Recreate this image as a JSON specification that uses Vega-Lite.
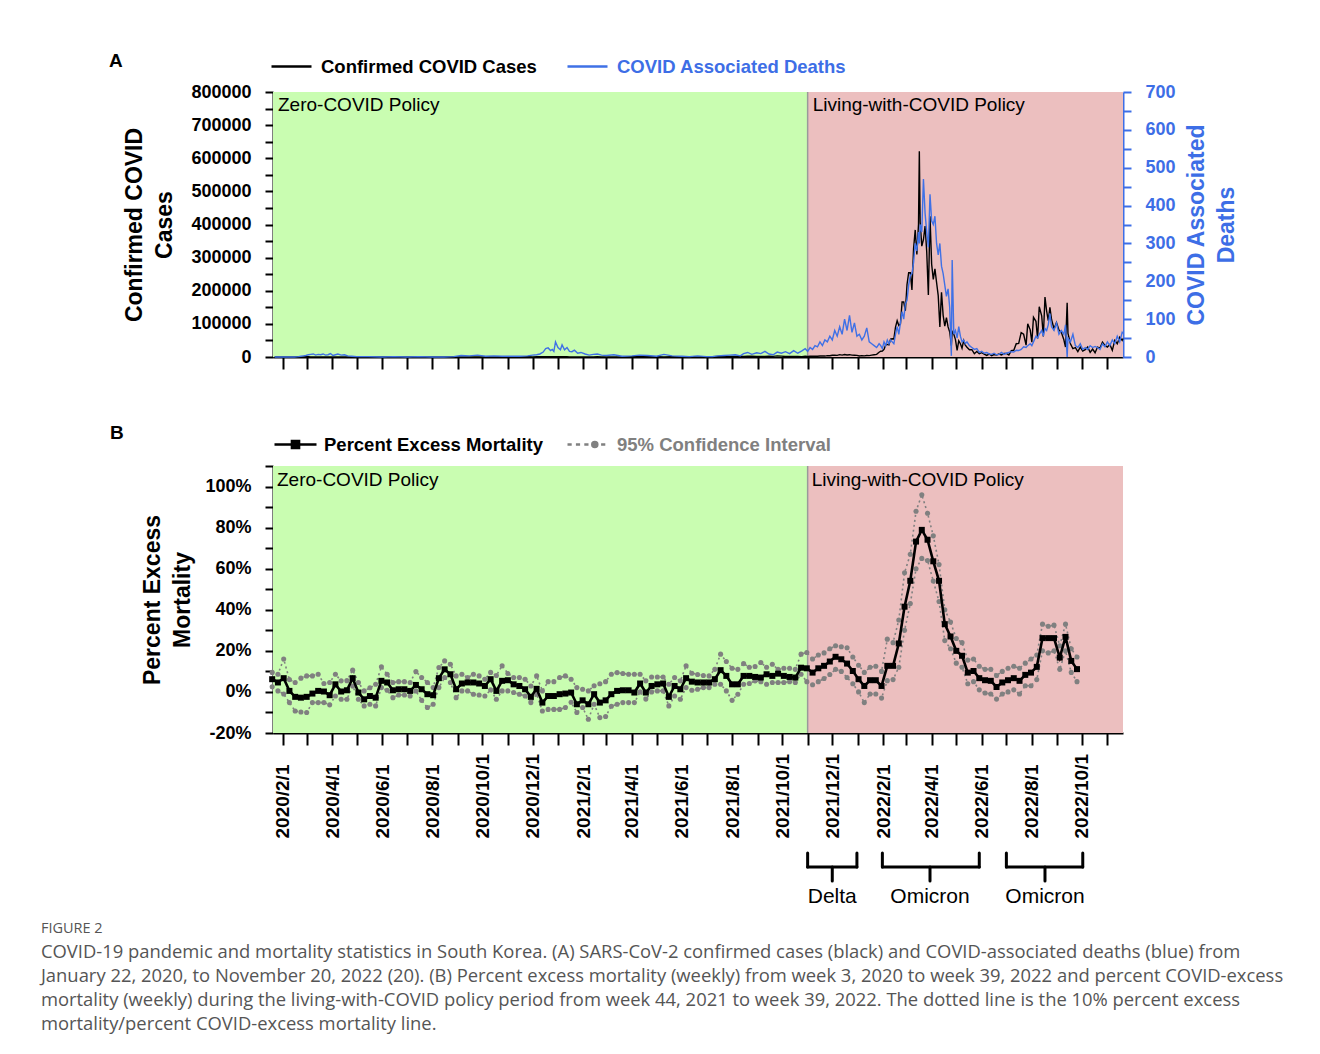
{
  "$schema": "https://vega.github.io/schema/vega-lite/v6.json",
  "background": "white",
  "padding": {"left": 40, "top": 45, "right": 10, "bottom": 10},
  "datasets": {
    "policy": [
      {"policy": "Zero-COVID Policy", "start": "2020-01-20", "end": "2021-11-01"},
      {"policy": "Living-with-COVID Policy", "start": "2021-11-01", "end": "2022-11-20"}
    ],
    "variants": [
      {"variant": "Delta", "start": "2021-11-01", "end": "2021-12-31", "mid": "2021-12-01"},
      {"variant": "Omicron", "start": "2022-01-31", "end": "2022-05-29", "mid": "2022-03-30"},
      {"variant": "Omicron", "start": "2022-07-01", "end": "2022-10-02", "mid": "2022-08-17"}
    ],
    "daily": [
      {"date": "2020-01-22", "cases": 1, "deaths": 0},
      {"date": "2020-02-01", "cases": 1, "deaths": 0},
      {"date": "2020-02-15", "cases": 0, "deaths": 0},
      {"date": "2020-02-20", "cases": 36, "deaths": 1},
      {"date": "2020-02-23", "cases": 169, "deaths": 2},
      {"date": "2020-02-26", "cases": 284, "deaths": 3},
      {"date": "2020-02-29", "cases": 813, "deaths": 4},
      {"date": "2020-03-03", "cases": 600, "deaths": 6},
      {"date": "2020-03-06", "cases": 518, "deaths": 7},
      {"date": "2020-03-09", "cases": 248, "deaths": 8},
      {"date": "2020-03-12", "cases": 114, "deaths": 5},
      {"date": "2020-03-15", "cases": 76, "deaths": 7},
      {"date": "2020-03-18", "cases": 93, "deaths": 6},
      {"date": "2020-03-21", "cases": 147, "deaths": 8},
      {"date": "2020-03-24", "cases": 100, "deaths": 5},
      {"date": "2020-03-27", "cases": 91, "deaths": 6},
      {"date": "2020-03-30", "cases": 78, "deaths": 9},
      {"date": "2020-04-02", "cases": 89, "deaths": 4},
      {"date": "2020-04-05", "cases": 81, "deaths": 6},
      {"date": "2020-04-08", "cases": 53, "deaths": 8},
      {"date": "2020-04-12", "cases": 32, "deaths": 5},
      {"date": "2020-04-16", "cases": 22, "deaths": 6},
      {"date": "2020-04-20", "cases": 13, "deaths": 3},
      {"date": "2020-04-25", "cases": 10, "deaths": 2},
      {"date": "2020-05-01", "cases": 9, "deaths": 1},
      {"date": "2020-05-15", "cases": 20, "deaths": 1},
      {"date": "2020-06-01", "cases": 35, "deaths": 0},
      {"date": "2020-06-15", "cases": 37, "deaths": 1},
      {"date": "2020-07-01", "cases": 51, "deaths": 0},
      {"date": "2020-07-15", "cases": 39, "deaths": 1},
      {"date": "2020-08-01", "cases": 31, "deaths": 0},
      {"date": "2020-08-15", "cases": 166, "deaths": 0},
      {"date": "2020-08-27", "cases": 441, "deaths": 1},
      {"date": "2020-09-05", "cases": 168, "deaths": 4},
      {"date": "2020-09-15", "cases": 106, "deaths": 3},
      {"date": "2020-09-25", "cases": 114, "deaths": 5},
      {"date": "2020-10-05", "cases": 73, "deaths": 2},
      {"date": "2020-10-15", "cases": 110, "deaths": 3},
      {"date": "2020-10-25", "cases": 61, "deaths": 2},
      {"date": "2020-11-05", "cases": 145, "deaths": 2},
      {"date": "2020-11-15", "cases": 208, "deaths": 2},
      {"date": "2020-11-25", "cases": 583, "deaths": 3},
      {"date": "2020-12-01", "cases": 451, "deaths": 5},
      {"date": "2020-12-06", "cases": 631, "deaths": 6},
      {"date": "2020-12-10", "cases": 682, "deaths": 8},
      {"date": "2020-12-14", "cases": 718, "deaths": 13},
      {"date": "2020-12-17", "cases": 1078, "deaths": 22},
      {"date": "2020-12-20", "cases": 1097, "deaths": 24},
      {"date": "2020-12-23", "cases": 1092, "deaths": 17},
      {"date": "2020-12-25", "cases": 1240, "deaths": 20},
      {"date": "2020-12-27", "cases": 970, "deaths": 15},
      {"date": "2020-12-29", "cases": 1046, "deaths": 40},
      {"date": "2021-01-01", "cases": 824, "deaths": 25},
      {"date": "2021-01-04", "cases": 657, "deaths": 19},
      {"date": "2021-01-06", "cases": 870, "deaths": 32},
      {"date": "2021-01-09", "cases": 641, "deaths": 19},
      {"date": "2021-01-12", "cases": 537, "deaths": 25},
      {"date": "2021-01-15", "cases": 512, "deaths": 15},
      {"date": "2021-01-18", "cases": 389, "deaths": 14},
      {"date": "2021-01-21", "cases": 401, "deaths": 18},
      {"date": "2021-01-25", "cases": 437, "deaths": 10},
      {"date": "2021-01-29", "cases": 469, "deaths": 12},
      {"date": "2021-02-03", "cases": 467, "deaths": 8},
      {"date": "2021-02-08", "cases": 289, "deaths": 5},
      {"date": "2021-02-13", "cases": 362, "deaths": 7},
      {"date": "2021-02-18", "cases": 621, "deaths": 8},
      {"date": "2021-02-23", "cases": 440, "deaths": 5},
      {"date": "2021-03-01", "cases": 355, "deaths": 4},
      {"date": "2021-03-10", "cases": 446, "deaths": 6},
      {"date": "2021-03-20", "cases": 456, "deaths": 2},
      {"date": "2021-04-01", "cases": 551, "deaths": 3},
      {"date": "2021-04-10", "cases": 614, "deaths": 5},
      {"date": "2021-04-20", "cases": 549, "deaths": 4},
      {"date": "2021-05-01", "cases": 606, "deaths": 2},
      {"date": "2021-05-10", "cases": 463, "deaths": 7},
      {"date": "2021-05-20", "cases": 646, "deaths": 3},
      {"date": "2021-06-01", "cases": 459, "deaths": 2},
      {"date": "2021-06-10", "cases": 556, "deaths": 1},
      {"date": "2021-06-20", "cases": 429, "deaths": 3},
      {"date": "2021-07-01", "cases": 826, "deaths": 1},
      {"date": "2021-07-08", "cases": 1275, "deaths": 1},
      {"date": "2021-07-15", "cases": 1600, "deaths": 3},
      {"date": "2021-07-22", "cases": 1842, "deaths": 4},
      {"date": "2021-07-29", "cases": 1674, "deaths": 5},
      {"date": "2021-08-05", "cases": 1776, "deaths": 6},
      {"date": "2021-08-11", "cases": 2223, "deaths": 3},
      {"date": "2021-08-15", "cases": 1816, "deaths": 9},
      {"date": "2021-08-20", "cases": 2050, "deaths": 12},
      {"date": "2021-08-25", "cases": 2155, "deaths": 7},
      {"date": "2021-08-31", "cases": 2025, "deaths": 11},
      {"date": "2021-09-05", "cases": 1490, "deaths": 9},
      {"date": "2021-09-10", "cases": 1892, "deaths": 15},
      {"date": "2021-09-15", "cases": 2080, "deaths": 8},
      {"date": "2021-09-20", "cases": 1910, "deaths": 6},
      {"date": "2021-09-25", "cases": 3273, "deaths": 13},
      {"date": "2021-09-30", "cases": 2564, "deaths": 10},
      {"date": "2021-10-05", "cases": 1575, "deaths": 14},
      {"date": "2021-10-10", "cases": 1594, "deaths": 9},
      {"date": "2021-10-15", "cases": 1940, "deaths": 17},
      {"date": "2021-10-20", "cases": 1571, "deaths": 10},
      {"date": "2021-10-25", "cases": 1266, "deaths": 16},
      {"date": "2021-10-29", "cases": 2124, "deaths": 22},
      {"date": "2021-11-01", "cases": 1700, "deaths": 15},
      {"date": "2021-11-04", "cases": 2500, "deaths": 25},
      {"date": "2021-11-07", "cases": 2200, "deaths": 20},
      {"date": "2021-11-10", "cases": 2400, "deaths": 30},
      {"date": "2021-11-13", "cases": 2400, "deaths": 27},
      {"date": "2021-11-16", "cases": 3100, "deaths": 40},
      {"date": "2021-11-19", "cases": 3200, "deaths": 30},
      {"date": "2021-11-22", "cases": 2800, "deaths": 45},
      {"date": "2021-11-25", "cases": 4100, "deaths": 40},
      {"date": "2021-11-28", "cases": 4000, "deaths": 55},
      {"date": "2021-12-01", "cases": 5100, "deaths": 45},
      {"date": "2021-12-04", "cases": 5300, "deaths": 70},
      {"date": "2021-12-07", "cases": 4900, "deaths": 55},
      {"date": "2021-12-10", "cases": 7000, "deaths": 80},
      {"date": "2021-12-13", "cases": 5800, "deaths": 60},
      {"date": "2021-12-16", "cases": 7600, "deaths": 100},
      {"date": "2021-12-19", "cases": 6200, "deaths": 70},
      {"date": "2021-12-22", "cases": 7000, "deaths": 110},
      {"date": "2021-12-25", "cases": 5800, "deaths": 65},
      {"date": "2021-12-28", "cases": 5400, "deaths": 90},
      {"date": "2021-12-31", "cases": 5000, "deaths": 55},
      {"date": "2022-01-03", "cases": 3200, "deaths": 60},
      {"date": "2022-01-06", "cases": 4100, "deaths": 45},
      {"date": "2022-01-09", "cases": 3300, "deaths": 55},
      {"date": "2022-01-12", "cases": 4500, "deaths": 77},
      {"date": "2022-01-15", "cases": 4200, "deaths": 40},
      {"date": "2022-01-18", "cases": 5500, "deaths": 35},
      {"date": "2022-01-21", "cases": 6800, "deaths": 30},
      {"date": "2022-01-24", "cases": 8000, "deaths": 25},
      {"date": "2022-01-27", "cases": 14500, "deaths": 35},
      {"date": "2022-01-29", "cases": 17500, "deaths": 30},
      {"date": "2022-01-31", "cases": 18000, "deaths": 22},
      {"date": "2022-02-02", "cases": 22900, "deaths": 40},
      {"date": "2022-02-04", "cases": 36000, "deaths": 30},
      {"date": "2022-02-06", "cases": 38000, "deaths": 45},
      {"date": "2022-02-08", "cases": 36700, "deaths": 35},
      {"date": "2022-02-10", "cases": 54000, "deaths": 45},
      {"date": "2022-02-12", "cases": 54900, "deaths": 40},
      {"date": "2022-02-14", "cases": 54600, "deaths": 35},
      {"date": "2022-02-16", "cases": 90400, "deaths": 60},
      {"date": "2022-02-18", "cases": 109800, "deaths": 80},
      {"date": "2022-02-20", "cases": 95000, "deaths": 60},
      {"date": "2022-02-22", "cases": 99500, "deaths": 90},
      {"date": "2022-02-24", "cases": 166000, "deaths": 120},
      {"date": "2022-02-26", "cases": 166200, "deaths": 100},
      {"date": "2022-02-28", "cases": 139600, "deaths": 140},
      {"date": "2022-03-02", "cases": 219000, "deaths": 150},
      {"date": "2022-03-04", "cases": 254300, "deaths": 190},
      {"date": "2022-03-06", "cases": 254300, "deaths": 215},
      {"date": "2022-03-08", "cases": 202700, "deaths": 220},
      {"date": "2022-03-10", "cases": 327500, "deaths": 250},
      {"date": "2022-03-12", "cases": 383600, "deaths": 300},
      {"date": "2022-03-14", "cases": 309700, "deaths": 280},
      {"date": "2022-03-16", "cases": 400600, "deaths": 330},
      {"date": "2022-03-17", "cases": 621300, "deaths": 300},
      {"date": "2022-03-18", "cases": 407000, "deaths": 350},
      {"date": "2022-03-20", "cases": 334700, "deaths": 330},
      {"date": "2022-03-22", "cases": 354000, "deaths": 470},
      {"date": "2022-03-24", "cases": 395500, "deaths": 380},
      {"date": "2022-03-26", "cases": 318100, "deaths": 330},
      {"date": "2022-03-28", "cases": 187200, "deaths": 290},
      {"date": "2022-03-30", "cases": 424600, "deaths": 430},
      {"date": "2022-04-01", "cases": 280000, "deaths": 360},
      {"date": "2022-04-03", "cases": 234300, "deaths": 350},
      {"date": "2022-04-05", "cases": 266100, "deaths": 372},
      {"date": "2022-04-07", "cases": 224800, "deaths": 300},
      {"date": "2022-04-09", "cases": 185500, "deaths": 270},
      {"date": "2022-04-11", "cases": 90900, "deaths": 300},
      {"date": "2022-04-13", "cases": 195400, "deaths": 240},
      {"date": "2022-04-15", "cases": 125800, "deaths": 220},
      {"date": "2022-04-17", "cases": 93000, "deaths": 190},
      {"date": "2022-04-19", "cases": 118500, "deaths": 160},
      {"date": "2022-04-21", "cases": 90800, "deaths": 180},
      {"date": "2022-04-23", "cases": 75400, "deaths": 130},
      {"date": "2022-04-25", "cases": 34300, "deaths": 3},
      {"date": "2022-04-26", "cases": 76700, "deaths": 256},
      {"date": "2022-04-28", "cases": 68500, "deaths": 60},
      {"date": "2022-04-30", "cases": 52700, "deaths": 70},
      {"date": "2022-05-02", "cases": 20000, "deaths": 50},
      {"date": "2022-05-04", "cases": 49000, "deaths": 80},
      {"date": "2022-05-06", "cases": 40000, "deaths": 55},
      {"date": "2022-05-08", "cases": 26700, "deaths": 40},
      {"date": "2022-05-10", "cases": 49900, "deaths": 45},
      {"date": "2022-05-12", "cases": 35900, "deaths": 35},
      {"date": "2022-05-14", "cases": 29500, "deaths": 40},
      {"date": "2022-05-17", "cases": 22000, "deaths": 30},
      {"date": "2022-05-20", "cases": 22000, "deaths": 25},
      {"date": "2022-05-23", "cases": 10000, "deaths": 20},
      {"date": "2022-05-26", "cases": 16500, "deaths": 22},
      {"date": "2022-05-29", "cases": 10000, "deaths": 12},
      {"date": "2022-06-01", "cases": 13000, "deaths": 15},
      {"date": "2022-06-04", "cases": 9000, "deaths": 10},
      {"date": "2022-06-07", "cases": 5000, "deaths": 12},
      {"date": "2022-06-10", "cases": 9000, "deaths": 8},
      {"date": "2022-06-13", "cases": 3800, "deaths": 7},
      {"date": "2022-06-16", "cases": 7400, "deaths": 10},
      {"date": "2022-06-19", "cases": 6000, "deaths": 6},
      {"date": "2022-06-22", "cases": 9000, "deaths": 7},
      {"date": "2022-06-25", "cases": 6200, "deaths": 12},
      {"date": "2022-06-28", "cases": 10400, "deaths": 7},
      {"date": "2022-07-01", "cases": 10700, "deaths": 10},
      {"date": "2022-07-04", "cases": 6200, "deaths": 12},
      {"date": "2022-07-07", "cases": 19300, "deaths": 14},
      {"date": "2022-07-10", "cases": 20400, "deaths": 13},
      {"date": "2022-07-13", "cases": 40200, "deaths": 18},
      {"date": "2022-07-16", "cases": 41300, "deaths": 17},
      {"date": "2022-07-19", "cases": 73600, "deaths": 20},
      {"date": "2022-07-22", "cases": 68600, "deaths": 27},
      {"date": "2022-07-25", "cases": 35800, "deaths": 25},
      {"date": "2022-07-27", "cases": 100200, "deaths": 30},
      {"date": "2022-07-30", "cases": 82000, "deaths": 35},
      {"date": "2022-08-01", "cases": 44600, "deaths": 30},
      {"date": "2022-08-03", "cases": 119900, "deaths": 40},
      {"date": "2022-08-06", "cases": 107900, "deaths": 55},
      {"date": "2022-08-08", "cases": 55200, "deaths": 50},
      {"date": "2022-08-10", "cases": 151700, "deaths": 60},
      {"date": "2022-08-13", "cases": 124500, "deaths": 70},
      {"date": "2022-08-15", "cases": 62000, "deaths": 55},
      {"date": "2022-08-17", "cases": 180800, "deaths": 75},
      {"date": "2022-08-19", "cases": 138800, "deaths": 70},
      {"date": "2022-08-21", "cases": 110000, "deaths": 85},
      {"date": "2022-08-23", "cases": 150200, "deaths": 115},
      {"date": "2022-08-25", "cases": 113300, "deaths": 80},
      {"date": "2022-08-28", "cases": 85300, "deaths": 70},
      {"date": "2022-08-31", "cases": 103900, "deaths": 90},
      {"date": "2022-09-03", "cases": 81500, "deaths": 60},
      {"date": "2022-09-06", "cases": 73600, "deaths": 70},
      {"date": "2022-09-09", "cases": 51900, "deaths": 60},
      {"date": "2022-09-11", "cases": 30000, "deaths": 85},
      {"date": "2022-09-13", "cases": 164000, "deaths": 0},
      {"date": "2022-09-14", "cases": 71400, "deaths": 50},
      {"date": "2022-09-17", "cases": 40000, "deaths": 40},
      {"date": "2022-09-20", "cases": 25000, "deaths": 60},
      {"date": "2022-09-23", "cases": 28000, "deaths": 30},
      {"date": "2022-09-26", "cases": 16500, "deaths": 25},
      {"date": "2022-09-29", "cases": 30000, "deaths": 35},
      {"date": "2022-10-02", "cases": 18000, "deaths": 20},
      {"date": "2022-10-05", "cases": 22000, "deaths": 25},
      {"date": "2022-10-08", "cases": 30000, "deaths": 20},
      {"date": "2022-10-11", "cases": 14000, "deaths": 30},
      {"date": "2022-10-14", "cases": 24000, "deaths": 25},
      {"date": "2022-10-17", "cases": 13000, "deaths": 28},
      {"date": "2022-10-20", "cases": 30000, "deaths": 25},
      {"date": "2022-10-23", "cases": 27000, "deaths": 20},
      {"date": "2022-10-26", "cases": 45000, "deaths": 35},
      {"date": "2022-10-29", "cases": 35000, "deaths": 27},
      {"date": "2022-11-01", "cases": 30000, "deaths": 40},
      {"date": "2022-11-04", "cases": 38000, "deaths": 30},
      {"date": "2022-11-07", "cases": 20000, "deaths": 45},
      {"date": "2022-11-10", "cases": 50000, "deaths": 35},
      {"date": "2022-11-13", "cases": 40000, "deaths": 55},
      {"date": "2022-11-16", "cases": 60000, "deaths": 40},
      {"date": "2022-11-19", "cases": 50000, "deaths": 65},
      {"date": "2022-11-20", "cases": 56000, "deaths": 62}
    ],
    "weekly": [
      {"date": "2020-01-19", "pct": 6.2, "lo": 2.5, "hi": 9.5},
      {"date": "2020-01-26", "pct": 4.6, "lo": 0.5, "hi": 8.6},
      {"date": "2020-02-02", "pct": 6.7, "lo": -1.0, "hi": 16.0},
      {"date": "2020-02-09", "pct": 0.5, "lo": -5.2, "hi": 6.0},
      {"date": "2020-02-16", "pct": -2.4, "lo": -9.3, "hi": 4.6},
      {"date": "2020-02-23", "pct": -2.8, "lo": -9.8, "hi": 6.7},
      {"date": "2020-03-01", "pct": -2.4, "lo": -10.0, "hi": 7.8},
      {"date": "2020-03-08", "pct": -0.8, "lo": -5.2, "hi": 7.8},
      {"date": "2020-03-15", "pct": 0.5, "lo": -5.2, "hi": 8.6},
      {"date": "2020-03-22", "pct": 0.2, "lo": -5.2, "hi": 4.1},
      {"date": "2020-03-29", "pct": -1.6, "lo": -6.3, "hi": 4.6},
      {"date": "2020-04-05", "pct": 3.7, "lo": -2.0, "hi": 8.6},
      {"date": "2020-04-12", "pct": 0.2, "lo": -3.6, "hi": 5.4},
      {"date": "2020-04-19", "pct": 0.8, "lo": -3.6, "hi": 5.5},
      {"date": "2020-04-26", "pct": 6.7, "lo": 2.9, "hi": 10.6},
      {"date": "2020-05-03", "pct": -0.3, "lo": -3.6, "hi": 4.6},
      {"date": "2020-05-10", "pct": -3.6, "lo": -6.8, "hi": 0.5},
      {"date": "2020-05-17", "pct": -2.0, "lo": -6.0, "hi": 2.0},
      {"date": "2020-05-24", "pct": -2.8, "lo": -6.8, "hi": 3.7},
      {"date": "2020-05-31", "pct": 5.4, "lo": 2.1, "hi": 12.2},
      {"date": "2020-06-07", "pct": 4.6, "lo": 0.8, "hi": 8.6},
      {"date": "2020-06-14", "pct": 0.8, "lo": -2.8, "hi": 4.6},
      {"date": "2020-06-21", "pct": 1.3, "lo": -1.5, "hi": 5.0},
      {"date": "2020-06-28", "pct": 1.3, "lo": -1.5, "hi": 5.0},
      {"date": "2020-07-05", "pct": 0.5, "lo": -2.0, "hi": 4.6},
      {"date": "2020-07-12", "pct": 3.4, "lo": 0.5, "hi": 9.9},
      {"date": "2020-07-19", "pct": 1.3, "lo": -4.1, "hi": 7.0},
      {"date": "2020-07-26", "pct": -1.1, "lo": -7.6, "hi": 4.6},
      {"date": "2020-08-02", "pct": -1.6, "lo": -6.0, "hi": 2.1},
      {"date": "2020-08-09", "pct": 6.7, "lo": 2.1, "hi": 11.9},
      {"date": "2020-08-16", "pct": 11.0, "lo": 7.0, "hi": 15.1},
      {"date": "2020-08-23", "pct": 8.6, "lo": 4.6, "hi": 13.5},
      {"date": "2020-08-30", "pct": 1.3, "lo": -2.8, "hi": 7.8},
      {"date": "2020-09-06", "pct": 4.1, "lo": 0.5, "hi": 8.6},
      {"date": "2020-09-13", "pct": 4.6, "lo": 0.5, "hi": 7.0},
      {"date": "2020-09-20", "pct": 4.6, "lo": -1.1, "hi": 8.6},
      {"date": "2020-09-27", "pct": 4.1, "lo": -1.5, "hi": 7.8},
      {"date": "2020-10-04", "pct": 2.9, "lo": -2.0, "hi": 6.2},
      {"date": "2020-10-11", "pct": 6.2, "lo": 1.0, "hi": 9.5},
      {"date": "2020-10-18", "pct": 0.5, "lo": -3.6, "hi": 8.0},
      {"date": "2020-10-25", "pct": 5.4, "lo": 0.5, "hi": 12.7},
      {"date": "2020-11-01", "pct": 5.7, "lo": 0.5, "hi": 9.0},
      {"date": "2020-11-08", "pct": 3.7, "lo": -0.3, "hi": 7.0},
      {"date": "2020-11-15", "pct": 2.9, "lo": -1.1, "hi": 7.0},
      {"date": "2020-11-22", "pct": 1.3, "lo": -2.0, "hi": 6.2},
      {"date": "2020-11-29", "pct": -2.4, "lo": -5.2, "hi": 2.9},
      {"date": "2020-12-06", "pct": 1.5, "lo": -1.1, "hi": 7.8},
      {"date": "2020-12-13", "pct": -5.2, "lo": -9.3, "hi": 0.5},
      {"date": "2020-12-20", "pct": -2.0, "lo": -8.5, "hi": 5.0},
      {"date": "2020-12-27", "pct": -2.0, "lo": -8.5, "hi": 5.0},
      {"date": "2021-01-03", "pct": -1.1, "lo": -8.5, "hi": 7.0},
      {"date": "2021-01-10", "pct": -0.8, "lo": -7.6, "hi": 7.8},
      {"date": "2021-01-17", "pct": -0.3, "lo": -5.0, "hi": 6.2},
      {"date": "2021-01-24", "pct": -6.0, "lo": -10.0, "hi": 2.1},
      {"date": "2021-01-31", "pct": -4.1, "lo": -7.6, "hi": 1.3},
      {"date": "2021-02-07", "pct": -6.0, "lo": -13.3, "hi": 0.5},
      {"date": "2021-02-14", "pct": -1.1, "lo": -6.0, "hi": 3.0},
      {"date": "2021-02-21", "pct": -5.2, "lo": -12.5, "hi": 4.0},
      {"date": "2021-02-28", "pct": -4.1, "lo": -12.0, "hi": 5.0},
      {"date": "2021-03-07", "pct": -1.1, "lo": -7.0, "hi": 8.6},
      {"date": "2021-03-14", "pct": 0.5, "lo": -6.0, "hi": 9.4},
      {"date": "2021-03-21", "pct": 0.8, "lo": -5.2, "hi": 9.0},
      {"date": "2021-03-28", "pct": 0.8, "lo": -5.2, "hi": 8.6},
      {"date": "2021-04-04", "pct": -0.3, "lo": -5.2, "hi": 8.6},
      {"date": "2021-04-11", "pct": 4.1, "lo": 0.0, "hi": 8.6},
      {"date": "2021-04-18", "pct": -0.3, "lo": -3.5, "hi": 5.4},
      {"date": "2021-04-25", "pct": 2.9, "lo": 0.0, "hi": 7.3},
      {"date": "2021-05-02", "pct": 3.7, "lo": 0.5, "hi": 7.3},
      {"date": "2021-05-09", "pct": 4.1, "lo": 0.5, "hi": 7.3},
      {"date": "2021-05-16", "pct": -2.4, "lo": -6.8, "hi": 3.7},
      {"date": "2021-05-23", "pct": 2.9, "lo": -2.0, "hi": 7.0},
      {"date": "2021-05-30", "pct": 1.3, "lo": -3.6, "hi": 5.4},
      {"date": "2021-06-06", "pct": 6.7, "lo": 2.1, "hi": 12.7},
      {"date": "2021-06-13", "pct": 5.0, "lo": 0.8, "hi": 9.1},
      {"date": "2021-06-20", "pct": 4.6, "lo": 1.3, "hi": 8.5},
      {"date": "2021-06-27", "pct": 4.6, "lo": 2.1, "hi": 8.0},
      {"date": "2021-07-04", "pct": 4.6, "lo": 2.1, "hi": 7.8},
      {"date": "2021-07-11", "pct": 6.2, "lo": 3.7, "hi": 11.0},
      {"date": "2021-07-18", "pct": 10.6, "lo": 3.7, "hi": 18.4},
      {"date": "2021-07-25", "pct": 7.8, "lo": 0.5, "hi": 14.8},
      {"date": "2021-08-01", "pct": 3.7, "lo": -4.1, "hi": 11.5},
      {"date": "2021-08-08", "pct": 3.7, "lo": -1.1, "hi": 11.0},
      {"date": "2021-08-15", "pct": 7.8, "lo": 3.7, "hi": 13.8},
      {"date": "2021-08-22", "pct": 7.8, "lo": 4.1, "hi": 12.0},
      {"date": "2021-08-29", "pct": 7.3, "lo": 5.4, "hi": 12.4},
      {"date": "2021-09-05", "pct": 7.0, "lo": 5.0, "hi": 14.3},
      {"date": "2021-09-12", "pct": 8.6, "lo": 3.7, "hi": 12.0},
      {"date": "2021-09-19", "pct": 7.8, "lo": 4.6, "hi": 13.5},
      {"date": "2021-09-26", "pct": 8.9, "lo": 4.6, "hi": 11.0},
      {"date": "2021-10-03", "pct": 7.8, "lo": 4.6, "hi": 11.5},
      {"date": "2021-10-10", "pct": 7.3, "lo": 5.0, "hi": 11.5},
      {"date": "2021-10-17", "pct": 7.0, "lo": 4.6, "hi": 11.0},
      {"date": "2021-10-24", "pct": 11.8, "lo": 8.6, "hi": 18.4},
      {"date": "2021-10-31", "pct": 11.5, "lo": 5.0, "hi": 19.2},
      {"date": "2021-11-07", "pct": 9.4, "lo": 3.5, "hi": 16.0},
      {"date": "2021-11-14", "pct": 11.5, "lo": 5.0, "hi": 18.0},
      {"date": "2021-11-21", "pct": 12.7, "lo": 6.5, "hi": 19.0},
      {"date": "2021-11-28", "pct": 14.8, "lo": 8.5, "hi": 21.0},
      {"date": "2021-12-05", "pct": 17.1, "lo": 11.0, "hi": 22.5},
      {"date": "2021-12-12", "pct": 15.9, "lo": 10.0, "hi": 22.0},
      {"date": "2021-12-19", "pct": 13.8, "lo": 7.0, "hi": 21.5},
      {"date": "2021-12-26", "pct": 10.2, "lo": 4.0, "hi": 17.0},
      {"date": "2022-01-02", "pct": 6.2, "lo": 0.0, "hi": 13.0},
      {"date": "2022-01-09", "pct": 2.9, "lo": -5.2, "hi": 9.5},
      {"date": "2022-01-16", "pct": 5.7, "lo": -1.0, "hi": 12.0},
      {"date": "2022-01-23", "pct": 5.7, "lo": -1.0, "hi": 12.5},
      {"date": "2022-01-30", "pct": 2.9, "lo": -3.0, "hi": 10.0},
      {"date": "2022-02-06", "pct": 12.7, "lo": 5.5, "hi": 25.7},
      {"date": "2022-02-13", "pct": 12.7, "lo": 6.0, "hi": 24.0},
      {"date": "2022-02-20", "pct": 23.6, "lo": 12.0, "hi": 35.0},
      {"date": "2022-02-27", "pct": 41.5, "lo": 30.0, "hi": 58.0},
      {"date": "2022-03-06", "pct": 54.1, "lo": 43.0, "hi": 67.0},
      {"date": "2022-03-13", "pct": 73.2, "lo": 60.0, "hi": 88.0},
      {"date": "2022-03-20", "pct": 78.9, "lo": 65.0, "hi": 96.0},
      {"date": "2022-03-27", "pct": 74.1, "lo": 64.0, "hi": 87.0},
      {"date": "2022-04-03", "pct": 63.6, "lo": 54.0, "hi": 76.0},
      {"date": "2022-04-10", "pct": 54.1, "lo": 44.0, "hi": 62.0},
      {"date": "2022-04-17", "pct": 33.0, "lo": 25.0, "hi": 40.0},
      {"date": "2022-04-24", "pct": 27.0, "lo": 21.0, "hi": 34.0},
      {"date": "2022-05-01", "pct": 20.0, "lo": 14.0, "hi": 26.0},
      {"date": "2022-05-08", "pct": 17.6, "lo": 12.0, "hi": 24.0},
      {"date": "2022-05-15", "pct": 9.4, "lo": 4.0, "hi": 15.5},
      {"date": "2022-05-22", "pct": 10.2, "lo": 5.0, "hi": 16.0},
      {"date": "2022-05-29", "pct": 6.7, "lo": 1.0, "hi": 12.5},
      {"date": "2022-06-05", "pct": 5.7, "lo": -0.5, "hi": 11.0},
      {"date": "2022-06-12", "pct": 5.4, "lo": -1.0, "hi": 11.0},
      {"date": "2022-06-19", "pct": 2.4, "lo": -3.5, "hi": 8.0},
      {"date": "2022-06-26", "pct": 4.6, "lo": -1.0, "hi": 10.0},
      {"date": "2022-07-03", "pct": 5.7, "lo": 0.0, "hi": 11.5},
      {"date": "2022-07-10", "pct": 6.7, "lo": 1.0, "hi": 12.5},
      {"date": "2022-07-17", "pct": 5.4, "lo": -1.0, "hi": 11.5},
      {"date": "2022-07-24", "pct": 8.3, "lo": 3.0, "hi": 14.0},
      {"date": "2022-07-31", "pct": 9.4, "lo": 3.0, "hi": 16.0},
      {"date": "2022-08-07", "pct": 12.2, "lo": 6.0, "hi": 18.0},
      {"date": "2022-08-14", "pct": 26.2, "lo": 20.0, "hi": 33.0},
      {"date": "2022-08-21", "pct": 26.2, "lo": 19.0, "hi": 32.0},
      {"date": "2022-08-28", "pct": 26.2, "lo": 20.0, "hi": 32.5},
      {"date": "2022-09-04", "pct": 16.7, "lo": 11.0, "hi": 22.5},
      {"date": "2022-09-11", "pct": 26.8, "lo": 20.0, "hi": 33.0},
      {"date": "2022-09-18", "pct": 15.1, "lo": 9.5, "hi": 21.0},
      {"date": "2022-09-25", "pct": 11.1, "lo": 5.0, "hi": 17.0}
    ]
  },
  "vconcat": [
    {
      "width": 850,
      "height": 265,
      "title": {"text": "A", "anchor": "start", "frame": "bounds", "font": "Liberation Sans", "fontSize": 19, "fontWeight": "bold", "color": "black", "offset": 0, "dx": -15, "dy": 26},
      "layer": [
        {
          "data": {"name": "policy"},
          "mark": {"type": "rect"},
          "encoding": {
            "x": {"field": "start", "type": "temporal", "scale": {"domain": [{"year": 2020, "month": 1, "date": 20}, {"year": 2022, "month": 11, "date": 20}]},
              "axis": {"title": null, "labels": false, "tickCount": {"interval": "month", "step": 1}, "tickSize": 12, "encode": {"ticks": {"update": {"y2": {"signal": "month(datum.value) % 2 == 1 ? 12 : 6"}}}}}},
            "x2": {"field": "end"},
            "fill": {"field": "policy", "type": "nominal", "scale": {"domain": ["Zero-COVID Policy", "Living-with-COVID Policy"], "range": ["#c9fdb1", "#ecbfbf"]}, "legend": null}
          }
        },
        {
          "data": {"name": "policy"},
          "transform": [{"filter": "datum.policy == 'Living-with-COVID Policy'"}],
          "mark": {"type": "rule", "color": "#9a9a9a", "strokeWidth": 1.5},
          "encoding": {
            "x": {"field": "start", "type": "temporal", "scale": {"domain": [{"year": 2020, "month": 1, "date": 20}, {"year": 2022, "month": 11, "date": 20}]},
              "axis": {"title": null, "labels": false, "tickCount": {"interval": "month", "step": 1}, "tickSize": 12, "encode": {"ticks": {"update": {"y2": {"signal": "month(datum.value) % 2 == 1 ? 12 : 6"}}}}}}
          }
        },
        {
          "data": {"name": "policy"},
          "mark": {"type": "text", "align": "left", "baseline": "top", "dx": 5, "dy": 4, "font": "Liberation Sans", "fontSize": 19, "color": "black"},
          "encoding": {
            "x": {"field": "start", "type": "temporal", "scale": {"domain": [{"year": 2020, "month": 1, "date": 20}, {"year": 2022, "month": 11, "date": 20}]},
              "axis": {"title": null, "labels": false, "tickCount": {"interval": "month", "step": 1}, "tickSize": 12, "encode": {"ticks": {"update": {"y2": {"signal": "month(datum.value) % 2 == 1 ? 12 : 6"}}}}}},
            "y": {"datum": 800000, "type": "quantitative", "scale": {"domain": [0, 800000]}, "axis": null},
            "text": {"field": "policy"}
          }
        },
        {
          "data": {"name": "daily"},
          "mark": {"type": "line", "strokeWidth": 1.4},
          "encoding": {
            "x": {"field": "date", "type": "temporal", "scale": {"domain": [{"year": 2020, "month": 1, "date": 20}, {"year": 2022, "month": 11, "date": 20}]},
              "axis": {"title": null, "labels": false, "tickCount": {"interval": "month", "step": 1}, "tickSize": 12, "encode": {"ticks": {"update": {"y2": {"signal": "month(datum.value) % 2 == 1 ? 12 : 6"}}}}}},
            "y": {"field": "cases", "type": "quantitative", "scale": {"domain": [0, 800000]},
              "axis": {"orient": "left", "title": ["Confirmed COVID", "Cases"], "values": [0, 50000, 100000, 150000, 200000, 250000, 300000, 350000, 400000, 450000, 500000, 550000, 600000, 650000, 700000, 750000, 800000], "format": "d", "labelExpr": "datum.value % 100000 == 0 ? datum.label : ''", "tickSize": 8, "labelPadding": 14, "titlePadding": 14,
                "encode": {"ticks": {"update": {"x2": {"signal": "datum.value % 100000 == 0 ? -8 : -4"}}}}}},
            "color": {"datum": "Confirmed COVID Cases", "type": "nominal",
              "scale": {"domain": ["Confirmed COVID Cases", "COVID Associated Deaths"], "range": ["#000000", "#3f71e6"]},
              "legend": {"orient": "none", "legendX": -3, "legendY": -47, "direction": "horizontal", "title": null, "labelFont": "Liberation Sans", "labelFontSize": 18.5, "labelFontWeight": "bold", "labelLimit": 400, "symbolType": "M-1,0H1", "symbolSize": 1600, "symbolStrokeWidth": 2.5, "labelOffset": 8, "columnPadding": 25,
                "encode": {"labels": {"update": {"fill": {"signal": "datum.label == 'COVID Associated Deaths' ? '#3d6ee6' : '#000000'"}}}}}}
          }
        },
        {
          "data": {"name": "daily"},
          "mark": {"type": "line", "strokeWidth": 1.4},
          "encoding": {
            "x": {"field": "date", "type": "temporal", "scale": {"domain": [{"year": 2020, "month": 1, "date": 20}, {"year": 2022, "month": 11, "date": 20}]},
              "axis": {"title": null, "labels": false, "tickCount": {"interval": "month", "step": 1}, "tickSize": 12, "encode": {"ticks": {"update": {"y2": {"signal": "month(datum.value) % 2 == 1 ? 12 : 6"}}}}}},
            "y": {"field": "deaths", "type": "quantitative", "scale": {"domain": [0, 700]},
              "axis": {"orient": "right", "title": ["COVID Associated", "Deaths"], "titleAngle": -90, "titleColor": "#3d6ee6", "labelColor": "#3d6ee6", "domainColor": "#3d6ee6", "tickColor": "#3d6ee6", "values": [0, 50, 100, 150, 200, 250, 300, 350, 400, 450, 500, 550, 600, 650, 700], "labelExpr": "datum.value % 100 == 0 ? datum.label : ''", "tickSize": 8, "labelPadding": 14, "titlePadding": 3,
                "encode": {"ticks": {"update": {"x2": {"signal": "datum.value % 100 == 0 ? 8 : 4"}}}}}},
            "color": {"datum": "COVID Associated Deaths", "type": "nominal"}
          }
        }
      ],
      "resolve": {"scale": {"y": "independent"}}
    },
    {
      "width": 850,
      "height": 267,
      "title": {"text": "B", "anchor": "start", "frame": "bounds", "font": "Liberation Sans", "fontSize": 19, "fontWeight": "bold", "color": "black", "offset": 0, "dx": -32, "dy": 21},
      "layer": [
        {
          "data": {"name": "policy"},
          "mark": {"type": "rect"},
          "encoding": {
            "x": {"field": "start", "type": "temporal", "scale": {"domain": [{"year": 2020, "month": 1, "date": 20}, {"year": 2022, "month": 11, "date": 20}]},
              "axis": {"title": null, "tickCount": {"interval": "month", "step": 1}, "tickSize": 12, "labelExpr": "month(datum.value) % 2 == 1 ? timeFormat(datum.value, '%Y/%-m/%-d') : ''", "labelAngle": -90, "labelAlign": "left", "labelBaseline": "middle", "labelPadding": 93, "labelFontSize": 19, "labelOverlap": false, "labelFlush": false, "encode": {"ticks": {"update": {"y2": {"signal": "month(datum.value) % 2 == 1 ? 12 : 6"}}}}}},
            "x2": {"field": "end"},
            "fill": {"field": "policy", "type": "nominal", "scale": {"domain": ["Zero-COVID Policy", "Living-with-COVID Policy"], "range": ["#c9fdb1", "#ecbfbf"]}, "legend": null}
          }
        },
        {
          "data": {"name": "policy"},
          "transform": [{"filter": "datum.policy == 'Living-with-COVID Policy'"}],
          "mark": {"type": "rule", "color": "#9a9a9a", "strokeWidth": 1.5},
          "encoding": {
            "x": {"field": "start", "type": "temporal", "scale": {"domain": [{"year": 2020, "month": 1, "date": 20}, {"year": 2022, "month": 11, "date": 20}]},
              "axis": {"title": null, "tickCount": {"interval": "month", "step": 1}, "tickSize": 12, "labelExpr": "month(datum.value) % 2 == 1 ? timeFormat(datum.value, '%Y/%-m/%-d') : ''", "labelAngle": -90, "labelAlign": "left", "labelBaseline": "middle", "labelPadding": 93, "labelFontSize": 19, "labelOverlap": false, "labelFlush": false, "encode": {"ticks": {"update": {"y2": {"signal": "month(datum.value) % 2 == 1 ? 12 : 6"}}}}}}
          }
        },
        {
          "data": {"name": "policy"},
          "mark": {"type": "text", "align": "left", "baseline": "top", "dx": 4, "dy": 5, "font": "Liberation Sans", "fontSize": 19, "color": "black"},
          "encoding": {
            "x": {"field": "start", "type": "temporal", "scale": {"domain": [{"year": 2020, "month": 1, "date": 20}, {"year": 2022, "month": 11, "date": 20}]},
              "axis": {"title": null, "tickCount": {"interval": "month", "step": 1}, "tickSize": 12, "labelExpr": "month(datum.value) % 2 == 1 ? timeFormat(datum.value, '%Y/%-m/%-d') : ''", "labelAngle": -90, "labelAlign": "left", "labelBaseline": "middle", "labelPadding": 93, "labelFontSize": 19, "labelOverlap": false, "labelFlush": false, "encode": {"ticks": {"update": {"y2": {"signal": "month(datum.value) % 2 == 1 ? 12 : 6"}}}}}},
            "y": {"datum": 110, "type": "quantitative", "scale": {"domain": [-20, 110]},
              "axis": {"orient": "left", "title": ["Percent Excess", "Mortality"], "values": [-20, -10, 0, 10, 20, 30, 40, 50, 60, 70, 80, 90, 100, 110], "labelExpr": "datum.value % 20 == 0 ? datum.value + '%' : ''", "tickSize": 8, "labelPadding": 14, "titlePadding": 10, "encode": {"ticks": {"update": {"x2": {"signal": "datum.value % 20 == 0 ? -8 : -4"}}}}}},
            "text": {"field": "policy"}
          }
        },
        {
          "mark": {"type": "rule", "color": "black", "strokeWidth": 1.4, "strokeDash": [8, 5]},
          "encoding": {
            "y": {"datum": 10, "type": "quantitative", "scale": {"domain": [-20, 110]},
              "axis": {"orient": "left", "title": ["Percent Excess", "Mortality"], "values": [-20, -10, 0, 10, 20, 30, 40, 50, 60, 70, 80, 90, 100, 110], "labelExpr": "datum.value % 20 == 0 ? datum.value + '%' : ''", "tickSize": 8, "labelPadding": 14, "titlePadding": 10, "encode": {"ticks": {"update": {"x2": {"signal": "datum.value % 20 == 0 ? -8 : -4"}}}}}}
          }
        },
        {
          "data": {"name": "weekly"},
          "mark": {"type": "line", "strokeWidth": 1.6, "strokeDash": [2, 3], "point": {"filled": true, "size": 26, "shape": "circle"}},
          "encoding": {
            "x": {"field": "date", "type": "temporal", "scale": {"domain": [{"year": 2020, "month": 1, "date": 20}, {"year": 2022, "month": 11, "date": 20}]},
              "axis": {"title": null, "tickCount": {"interval": "month", "step": 1}, "tickSize": 12, "labelExpr": "month(datum.value) % 2 == 1 ? timeFormat(datum.value, '%Y/%-m/%-d') : ''", "labelAngle": -90, "labelAlign": "left", "labelBaseline": "middle", "labelPadding": 93, "labelFontSize": 19, "labelOverlap": false, "labelFlush": false, "encode": {"ticks": {"update": {"y2": {"signal": "month(datum.value) % 2 == 1 ? 12 : 6"}}}}}},
            "y": {"field": "hi", "type": "quantitative", "scale": {"domain": [-20, 110]},
              "axis": {"orient": "left", "title": ["Percent Excess", "Mortality"], "values": [-20, -10, 0, 10, 20, 30, 40, 50, 60, 70, 80, 90, 100, 110], "labelExpr": "datum.value % 20 == 0 ? datum.value + '%' : ''", "tickSize": 8, "labelPadding": 14, "titlePadding": 10, "encode": {"ticks": {"update": {"x2": {"signal": "datum.value % 20 == 0 ? -8 : -4"}}}}}},
            "color": {"datum": "95% Confidence Interval", "type": "nominal"}
          }
        },
        {
          "data": {"name": "weekly"},
          "mark": {"type": "line", "strokeWidth": 1.6, "strokeDash": [2, 3], "point": {"filled": true, "size": 26, "shape": "circle"}},
          "encoding": {
            "x": {"field": "date", "type": "temporal", "scale": {"domain": [{"year": 2020, "month": 1, "date": 20}, {"year": 2022, "month": 11, "date": 20}]},
              "axis": {"title": null, "tickCount": {"interval": "month", "step": 1}, "tickSize": 12, "labelExpr": "month(datum.value) % 2 == 1 ? timeFormat(datum.value, '%Y/%-m/%-d') : ''", "labelAngle": -90, "labelAlign": "left", "labelBaseline": "middle", "labelPadding": 93, "labelFontSize": 19, "labelOverlap": false, "labelFlush": false, "encode": {"ticks": {"update": {"y2": {"signal": "month(datum.value) % 2 == 1 ? 12 : 6"}}}}}},
            "y": {"field": "lo", "type": "quantitative", "scale": {"domain": [-20, 110]},
              "axis": {"orient": "left", "title": ["Percent Excess", "Mortality"], "values": [-20, -10, 0, 10, 20, 30, 40, 50, 60, 70, 80, 90, 100, 110], "labelExpr": "datum.value % 20 == 0 ? datum.value + '%' : ''", "tickSize": 8, "labelPadding": 14, "titlePadding": 10, "encode": {"ticks": {"update": {"x2": {"signal": "datum.value % 20 == 0 ? -8 : -4"}}}}}},
            "color": {"datum": "95% Confidence Interval", "type": "nominal"}
          }
        },
        {
          "data": {"name": "weekly"},
          "mark": {"type": "line", "strokeWidth": 2.6, "point": {"filled": true, "size": 36, "shape": "square"}},
          "encoding": {
            "x": {"field": "date", "type": "temporal", "scale": {"domain": [{"year": 2020, "month": 1, "date": 20}, {"year": 2022, "month": 11, "date": 20}]},
              "axis": {"title": null, "tickCount": {"interval": "month", "step": 1}, "tickSize": 12, "labelExpr": "month(datum.value) % 2 == 1 ? timeFormat(datum.value, '%Y/%-m/%-d') : ''", "labelAngle": -90, "labelAlign": "left", "labelBaseline": "middle", "labelPadding": 93, "labelFontSize": 19, "labelOverlap": false, "labelFlush": false, "encode": {"ticks": {"update": {"y2": {"signal": "month(datum.value) % 2 == 1 ? 12 : 6"}}}}}},
            "y": {"field": "pct", "type": "quantitative", "scale": {"domain": [-20, 110]},
              "axis": {"orient": "left", "title": ["Percent Excess", "Mortality"], "values": [-20, -10, 0, 10, 20, 30, 40, 50, 60, 70, 80, 90, 100, 110], "labelExpr": "datum.value % 20 == 0 ? datum.value + '%' : ''", "tickSize": 8, "labelPadding": 14, "titlePadding": 10, "encode": {"ticks": {"update": {"x2": {"signal": "datum.value % 20 == 0 ? -8 : -4"}}}}}},
            "color": {"datum": "Percent Excess Mortality", "type": "nominal",
              "scale": {"domain": ["Percent Excess Mortality", "95% Confidence Interval"], "range": ["#000000", "#808080"]},
              "legend": {"orient": "none", "legendX": 0, "legendY": -44, "direction": "horizontal", "title": null, "labelFont": "Liberation Sans", "labelFontSize": 18.5, "labelFontWeight": "bold", "labelLimit": 400, "symbolSize": 1764, "labelOffset": 6, "columnPadding": 18,
                "encode": {
                  "symbols": {"update": {
                    "shape": {"signal": "datum.label == 'Percent Excess Mortality' ? 'M-1,0H1M-0.17,-0.17H0.17V0.17H-0.17Z' : 'M-1,0H-0.8M-0.6,0H-0.4M-0.2,0H0M0.18,0A0.12,0.12,0,1,0,0.42,0A0.12,0.12,0,1,0,0.18,0M0.6,0H0.8'"},
                    "fill": {"signal": "datum.label == 'Percent Excess Mortality' ? '#000000' : '#808080'"},
                    "stroke": {"signal": "datum.label == 'Percent Excess Mortality' ? '#000000' : '#808080'"},
                    "strokeWidth": {"value": 2.5},
                    "strokeDash": {"value": []},
                    "opacity": {"value": 1}
                  }},
                  "labels": {"update": {"fill": {"signal": "datum.label == 'Percent Excess Mortality' ? '#000000' : '#808080'"}}}
                }}}
          }
        },
        {
          "data": {"name": "variants"},
          "mark": {"type": "rule", "color": "black", "strokeWidth": 3, "strokeCap": "round"},
          "encoding": {
            "x": {"field": "start", "type": "temporal", "scale": {"domain": [{"year": 2020, "month": 1, "date": 20}, {"year": 2022, "month": 11, "date": 20}]},
              "axis": {"title": null, "tickCount": {"interval": "month", "step": 1}, "tickSize": 12, "labelExpr": "month(datum.value) % 2 == 1 ? timeFormat(datum.value, '%Y/%-m/%-d') : ''", "labelAngle": -90, "labelAlign": "left", "labelBaseline": "middle", "labelPadding": 93, "labelFontSize": 19, "labelOverlap": false, "labelFlush": false, "encode": {"ticks": {"update": {"y2": {"signal": "month(datum.value) % 2 == 1 ? 12 : 6"}}}}}},
            "x2": {"field": "end"},
            "y": {"datum": -85.2, "type": "quantitative", "scale": {"domain": [-20, 110]},
              "axis": {"orient": "left", "title": ["Percent Excess", "Mortality"], "values": [-20, -10, 0, 10, 20, 30, 40, 50, 60, 70, 80, 90, 100, 110], "labelExpr": "datum.value % 20 == 0 ? datum.value + '%' : ''", "tickSize": 8, "labelPadding": 14, "titlePadding": 10, "encode": {"ticks": {"update": {"x2": {"signal": "datum.value % 20 == 0 ? -8 : -4"}}}}}}
          }
        },
        {
          "data": {"name": "variants"},
          "mark": {"type": "rule", "color": "black", "strokeWidth": 3, "strokeCap": "round"},
          "encoding": {
            "x": {"field": "start", "type": "temporal", "scale": {"domain": [{"year": 2020, "month": 1, "date": 20}, {"year": 2022, "month": 11, "date": 20}]},
              "axis": {"title": null, "tickCount": {"interval": "month", "step": 1}, "tickSize": 12, "labelExpr": "month(datum.value) % 2 == 1 ? timeFormat(datum.value, '%Y/%-m/%-d') : ''", "labelAngle": -90, "labelAlign": "left", "labelBaseline": "middle", "labelPadding": 93, "labelFontSize": 19, "labelOverlap": false, "labelFlush": false, "encode": {"ticks": {"update": {"y2": {"signal": "month(datum.value) % 2 == 1 ? 12 : 6"}}}}}},
            "y": {"datum": -78.4, "type": "quantitative", "scale": {"domain": [-20, 110]},
              "axis": {"orient": "left", "title": ["Percent Excess", "Mortality"], "values": [-20, -10, 0, 10, 20, 30, 40, 50, 60, 70, 80, 90, 100, 110], "labelExpr": "datum.value % 20 == 0 ? datum.value + '%' : ''", "tickSize": 8, "labelPadding": 14, "titlePadding": 10, "encode": {"ticks": {"update": {"x2": {"signal": "datum.value % 20 == 0 ? -8 : -4"}}}}}},
            "y2": {"datum": -85.2}
          }
        },
        {
          "data": {"name": "variants"},
          "mark": {"type": "rule", "color": "black", "strokeWidth": 3, "strokeCap": "round"},
          "encoding": {
            "x": {"field": "end", "type": "temporal", "scale": {"domain": [{"year": 2020, "month": 1, "date": 20}, {"year": 2022, "month": 11, "date": 20}]},
              "axis": {"title": null, "tickCount": {"interval": "month", "step": 1}, "tickSize": 12, "labelExpr": "month(datum.value) % 2 == 1 ? timeFormat(datum.value, '%Y/%-m/%-d') : ''", "labelAngle": -90, "labelAlign": "left", "labelBaseline": "middle", "labelPadding": 93, "labelFontSize": 19, "labelOverlap": false, "labelFlush": false, "encode": {"ticks": {"update": {"y2": {"signal": "month(datum.value) % 2 == 1 ? 12 : 6"}}}}}},
            "y": {"datum": -78.4, "type": "quantitative", "scale": {"domain": [-20, 110]},
              "axis": {"orient": "left", "title": ["Percent Excess", "Mortality"], "values": [-20, -10, 0, 10, 20, 30, 40, 50, 60, 70, 80, 90, 100, 110], "labelExpr": "datum.value % 20 == 0 ? datum.value + '%' : ''", "tickSize": 8, "labelPadding": 14, "titlePadding": 10, "encode": {"ticks": {"update": {"x2": {"signal": "datum.value % 20 == 0 ? -8 : -4"}}}}}},
            "y2": {"datum": -85.2}
          }
        },
        {
          "data": {"name": "variants"},
          "mark": {"type": "rule", "color": "black", "strokeWidth": 3, "strokeCap": "round"},
          "encoding": {
            "x": {"field": "mid", "type": "temporal", "scale": {"domain": [{"year": 2020, "month": 1, "date": 20}, {"year": 2022, "month": 11, "date": 20}]},
              "axis": {"title": null, "tickCount": {"interval": "month", "step": 1}, "tickSize": 12, "labelExpr": "month(datum.value) % 2 == 1 ? timeFormat(datum.value, '%Y/%-m/%-d') : ''", "labelAngle": -90, "labelAlign": "left", "labelBaseline": "middle", "labelPadding": 93, "labelFontSize": 19, "labelOverlap": false, "labelFlush": false, "encode": {"ticks": {"update": {"y2": {"signal": "month(datum.value) % 2 == 1 ? 12 : 6"}}}}}},
            "y": {"datum": -85.2, "type": "quantitative", "scale": {"domain": [-20, 110]},
              "axis": {"orient": "left", "title": ["Percent Excess", "Mortality"], "values": [-20, -10, 0, 10, 20, 30, 40, 50, 60, 70, 80, 90, 100, 110], "labelExpr": "datum.value % 20 == 0 ? datum.value + '%' : ''", "tickSize": 8, "labelPadding": 14, "titlePadding": 10, "encode": {"ticks": {"update": {"x2": {"signal": "datum.value % 20 == 0 ? -8 : -4"}}}}}},
            "y2": {"datum": -92}
          }
        },
        {
          "data": {"name": "variants"},
          "mark": {"type": "text", "align": "center", "baseline": "middle", "font": "Liberation Sans", "fontSize": 21, "color": "black"},
          "encoding": {
            "x": {"field": "mid", "type": "temporal", "scale": {"domain": [{"year": 2020, "month": 1, "date": 20}, {"year": 2022, "month": 11, "date": 20}]},
              "axis": {"title": null, "tickCount": {"interval": "month", "step": 1}, "tickSize": 12, "labelExpr": "month(datum.value) % 2 == 1 ? timeFormat(datum.value, '%Y/%-m/%-d') : ''", "labelAngle": -90, "labelAlign": "left", "labelBaseline": "middle", "labelPadding": 93, "labelFontSize": 19, "labelOverlap": false, "labelFlush": false, "encode": {"ticks": {"update": {"y2": {"signal": "month(datum.value) % 2 == 1 ? 12 : 6"}}}}}},
            "y": {"datum": -100, "type": "quantitative", "scale": {"domain": [-20, 110]},
              "axis": {"orient": "left", "title": ["Percent Excess", "Mortality"], "values": [-20, -10, 0, 10, 20, 30, 40, 50, 60, 70, 80, 90, 100, 110], "labelExpr": "datum.value % 20 == 0 ? datum.value + '%' : ''", "tickSize": 8, "labelPadding": 14, "titlePadding": 10, "encode": {"ticks": {"update": {"x2": {"signal": "datum.value % 20 == 0 ? -8 : -4"}}}}}},
            "text": {"field": "variant"}
          }
        }
      ]
    }
  ],
  "spacing": 52,
  "resolve": {"scale": {"color": "independent", "fill": "independent"}, "legend": {"color": "independent"}},
  "title": {
    "text": "FIGURE 2",
    "subtitle": [
      "COVID-19 pandemic and mortality statistics in South Korea. (A) SARS-CoV-2 confirmed cases (black) and COVID-associated deaths (blue) from",
      "January 22, 2020, to November 20, 2022 (20). (B) Percent excess mortality (weekly) from week 3, 2020 to week 39, 2022 and percent COVID-excess",
      "mortality (weekly) during the living-with-COVID policy period from week 44, 2021 to week 39, 2022. The dotted line is the 10% percent excess",
      "mortality/percent COVID-excess mortality line."
    ],
    "orient": "bottom",
    "anchor": "start",
    "frame": "bounds",
    "offset": 15,
    "dx": -68,
    "font": "Open Sans",
    "fontSize": 14.5,
    "fontWeight": "normal",
    "color": "#555555",
    "subtitleFont": "Open Sans",
    "subtitleFontSize": 18.4,
    "subtitleColor": "#555555",
    "subtitleLineHeight": 24,
    "subtitlePadding": 6
  },
  "config": {
    "view": {"stroke": null},
    "font": "Liberation Sans",
    "axis": {
      "zindex": 1,
      "grid": false,
      "domainColor": "black",
      "domainWidth": 2,
      "tickColor": "black",
      "tickWidth": 2,
      "labelFont": "Liberation Sans",
      "labelFontSize": 18,
      "labelFontWeight": "bold",
      "labelColor": "black",
      "titleFont": "Liberation Sans",
      "titleFontSize": 23,
      "titleFontWeight": "bold",
      "titleColor": "black",
      "titleLineHeight": 30
    }
  }
}
